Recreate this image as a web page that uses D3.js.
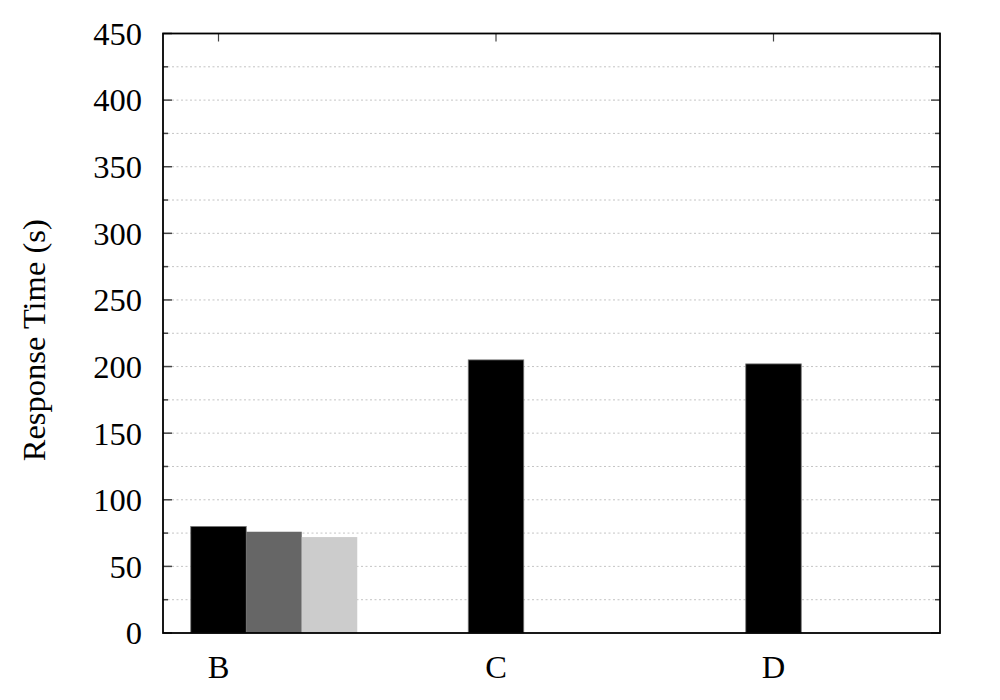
<!DOCTYPE html>
<html>
<head>
<meta charset="utf-8">
<script src="https://cdn.jsdelivr.net/npm/d3@7"></script>
<style>
  body { margin: 0; background: #fff; }
  text { font-family: "Liberation Serif", "DejaVu Serif", serif; fill: #000; }
</style>
</head>
<body>
<svg id="chart" width="1000" height="700"></svg>
<script>
// ---- data ----
const categories = ["B", "C", "D"];
const series1 = [80, 205, 202];
const series2 = [76, null, null];
const series3 = [72, null, null];
const seriesColors = ["#000000", "#666666", "#cccccc"];
const yTicks = [0, 50, 100, 150, 200, 250, 300, 350, 400, 450];
const yLabel = "Response Time (s)";

(function () {
// ---- layout ----
const svg = d3.select("#chart");
const pL = 163, pR = 940, pT = 33.5, pB = 633;
const barW = 0.2; // in category units
const fs = 32.5;

const x = d3.scaleLinear().domain([-0.2, 2.6]).range([pL, pR]);
const y = d3.scaleLinear().domain([0, 450]).range([pB, pT]);

// grid (every 25)
const gridVals = d3.range(25, 450, 25);
svg.append("g").selectAll("line").data(gridVals).join("line")
  .attr("x1", pL).attr("x2", pR)
  .attr("y1", d => y(d)).attr("y2", d => y(d))
  .attr("stroke", "#c4c4c4").attr("stroke-width", 1)
  .attr("stroke-dasharray", "2,2.5");

// bars
const allSeries = [series1, series2, series3];
allSeries.forEach((vals, si) => {
  svg.append("g").selectAll("rect")
    .data(vals.map((v, i) => ({ v, i })).filter(d => d.v != null))
    .join("rect")
    .attr("x", d => x(d.i + si * barW - barW / 2))
    .attr("width", d => x(barW) - x(0))
    .attr("y", d => y(d.v))
    .attr("height", d => y(0) - y(d.v))
    .attr("fill", seriesColors[si])
    .attr("stroke", si === 0 ? "#777" : "none")
    .attr("stroke-width", 0.8);
});

// left/right ticks
const minor = d3.range(0, 451, 25);
const tickG = svg.append("g");
minor.forEach(v => {
  const len = v % 50 === 0 ? 9 : 5;
  tickG.append("line").attr("x1", pL).attr("x2", pL + len)
    .attr("y1", y(v)).attr("y2", y(v)).attr("stroke", "#444").attr("stroke-width", 1.5);
  tickG.append("line").attr("x1", pR).attr("x2", pR - len)
    .attr("y1", y(v)).attr("y2", y(v)).attr("stroke", "#444").attr("stroke-width", 1.5);
});
// top ticks at categories
categories.forEach((c, i) => {
  tickG.append("line").attr("x1", x(i)).attr("x2", x(i))
    .attr("y1", pT).attr("y2", pT + 8).attr("stroke", "#444").attr("stroke-width", 1.2);
});

// frame
svg.append("rect").attr("x", pL).attr("y", pT)
  .attr("width", pR - pL).attr("height", pB - pT)
  .attr("fill", "none").attr("stroke", "#000").attr("stroke-width", 1.8);

// y tick labels
svg.append("g").selectAll("text").data(yTicks).join("text")
  .attr("x", pL - 21).attr("y", d => y(d))
  .attr("dy", "0.35em")
  .attr("text-anchor", "end")
  .attr("font-size", fs)
  .text(d => d);

// x labels
svg.append("g").selectAll("text").data(categories).join("text")
  .attr("x", (d, i) => x(i)).attr("y", 678)
  .attr("text-anchor", "middle")
  .attr("font-size", fs)
  .text(d => d);

// y axis label
svg.append("text")
  .attr("transform", `translate(45, ${(pT + pB) / 2 + 7}) rotate(-90)`)
  .attr("text-anchor", "middle")
  .attr("font-size", fs)
  .text(yLabel);
})();
</script>
</body>
</html>
